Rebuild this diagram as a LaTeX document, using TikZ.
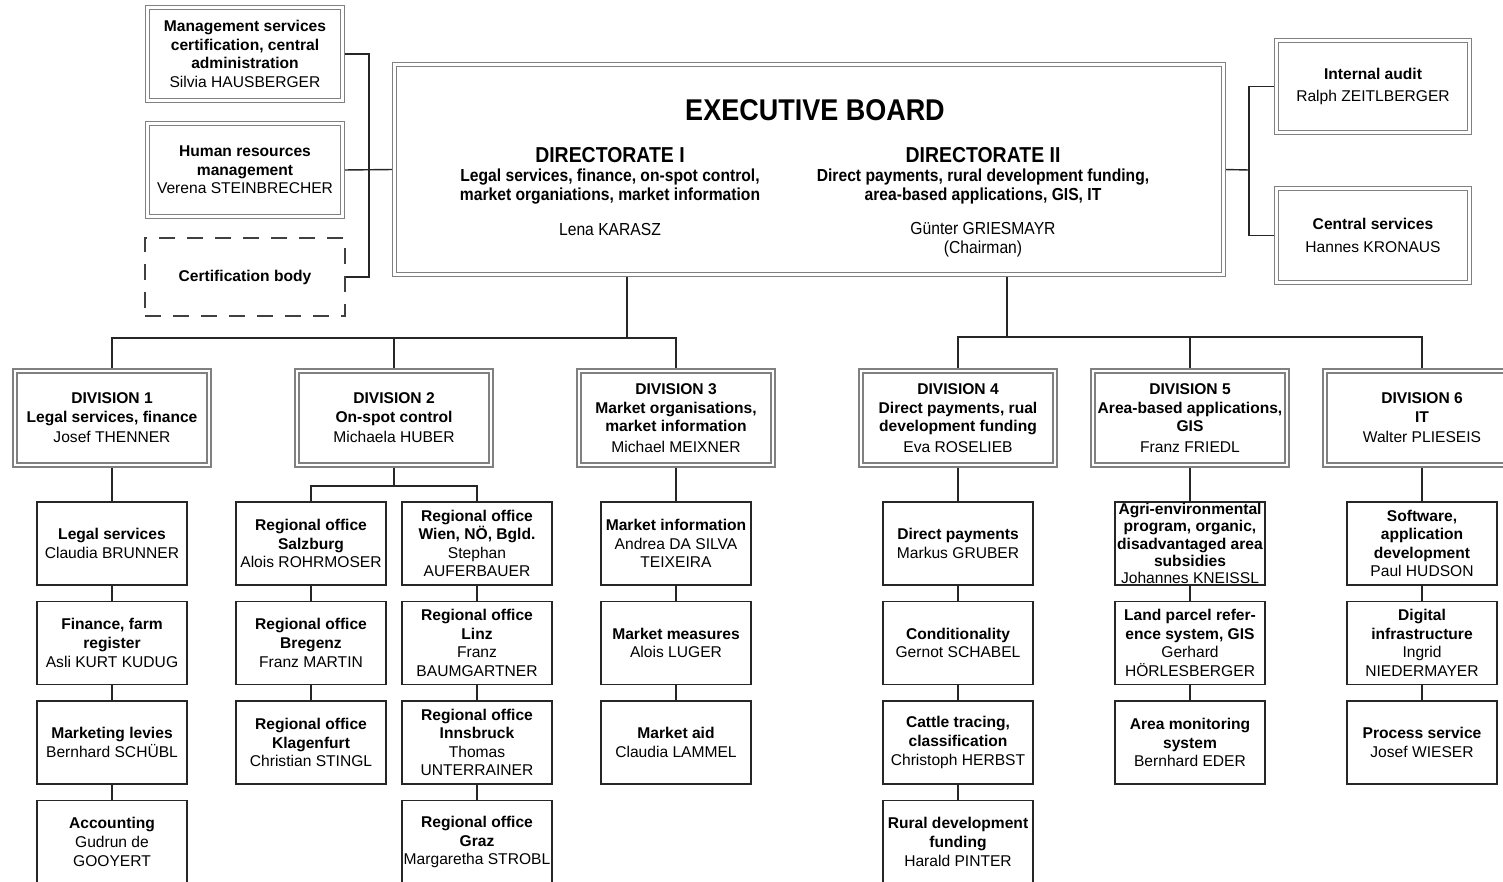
\documentclass[tikz,border=0pt]{standalone}
\usepackage{fontspec}
\setmainfont{Liberation Sans}
\newfontfamily\narrowfont{Liberation Sans}[FakeStretch=0.9]
\usepackage{tikz}
\usetikzlibrary{backgrounds}

\newcommand{\unitfont}{\fontsize{7.8}{9.3}\selectfont}
\newcommand{\boardfont}{\narrowfont\fontsize{8.7}{9.5}\selectfont}

\begin{document}
\begin{tikzpicture}[x=0.5pt, y=-0.5pt,
    unit/.style={draw=black!85, line width=0.6pt, fill=white, inner sep=0pt, align=center, font=\unitfont, minimum width=75pt, minimum height=41.5pt},
    division/.style={draw=black!50, line width=0.6pt, double=white, double distance=1.4pt, fill=white, inner sep=0pt, align=center, font=\unitfont, minimum width=97pt, minimum height=47pt},
    staff/.style={division, minimum width=97.5pt, minimum height=46.5pt},
    board/.style={inner sep=0pt, align=center, font=\boardfont},
    link/.style={draw=black!85, line width=0.7pt}]
    \useasboundingbox (0,0) rectangle (1503,882);
    % Executive board
    \node[division, minimum width=414.5pt, minimum height=105pt] at (809,169.5) (exec) {};
    \node[board, font=\narrowfont\bfseries\fontsize{15}{18}\selectfont] at (815,110) (ebtitle) {EXECUTIVE BOARD};
    \node[board, font=\narrowfont\bfseries\fontsize{10.8}{12}\selectfont] at (610,155) (dirone) {DIRECTORATE I};
    \node[board] at (610,187) (dironetasks) {\textbf{Legal services, finance, on-spot control,}\\\textbf{market organiations, market information}};
    \node[board] at (610,230) (dironehead) {Lena KARASZ};
    \node[board, font=\narrowfont\bfseries\fontsize{10.8}{12}\selectfont] at (983,155) (dirtwo) {DIRECTORATE II};
    \node[board] at (983,187) (dirtwotasks) {\textbf{Direct payments, rural development funding,}\\\textbf{area-based applications, GIS, IT}};
    \node[board] at (983,240) (dirtwohead) {Günter GRIESMAYR\\(Chairman)};
    % Staff units
    \node[staff] at (245,54) (mgmt) {\textbf{Management services}\\\textbf{certification, central}\\\textbf{administration}\\Silvia HAUSBERGER};
    \node[staff] at (245,170) (hr) {\textbf{Human resources}\\\textbf{management}\\Verena STEINBRECHER};
    \node[unit, draw=black!75, dash pattern=on 8pt off 6pt, minimum width=100pt, minimum height=39pt] at (245,277) (certbody) {\textbf{Certification body}};
    \node[staff, minimum width=96.5pt, minimum height=46pt] at (1373,86.5) (audit) {\textbf{Internal audit}\\[2pt]Ralph ZEITLBERGER};
    \node[staff, minimum width=96.5pt, minimum height=47pt] at (1373,235.5) (central) {\textbf{Central services}\\[2pt]Hannes KRONAUS};
    % Divisions
    \node[division] at (112,418) (divone) {\textbf{DIVISION 1}\\\textbf{Legal services, finance}\\[1pt]Josef THENNER};
    \node[division] at (394,418) (divtwo) {\textbf{DIVISION 2}\\\textbf{On-spot control}\\[1pt]Michaela HUBER};
    \node[division] at (676,418) (divthree) {\textbf{DIVISION 3}\\\textbf{Market organisations,}\\\textbf{market information}\\[1pt]Michael MEIXNER};
    \node[division] at (958,418) (divfour) {\textbf{DIVISION 4}\\\textbf{Direct payments, rual}\\\textbf{development funding}\\[1pt]Eva ROSELIEB};
    \node[division] at (1190,418) (divfive) {\textbf{DIVISION 5}\\\textbf{Area-based applications,}\\\textbf{GIS}\\[1pt]Franz FRIEDL};
    \node[division] at (1422,418) (divsix) {\textbf{DIVISION 6}\\\textbf{IT}\\[1pt]Walter PLIESEIS};
    % Division 1
    \node[unit] at (112,543.5) (legal) {\textbf{Legal services}\\Claudia BRUNNER};
    \node[unit] at (112,643) (finance) {\textbf{Finance, farm}\\\textbf{register}\\Asli KURT KUDUG};
    \node[unit] at (112,742.5) (levies) {\textbf{Marketing levies}\\Bernhard SCHÜBL};
    \node[unit] at (112,842) (accounting) {\textbf{Accounting}\\Gudrun de\\GOOYERT};
    % Division 2
    \node[unit] at (311,543.5) (salzburg) {\textbf{Regional office}\\\textbf{Salzburg}\\Alois ROHRMOSER};
    \node[unit] at (311,643) (bregenz) {\textbf{Regional office}\\\textbf{Bregenz}\\Franz MARTIN};
    \node[unit] at (311,742.5) (klagenfurt) {\textbf{Regional office}\\\textbf{Klagenfurt}\\Christian STINGL};
    \node[unit] at (477,543.5) (wien) {\textbf{Regional office}\\\textbf{Wien, NÖ, Bgld.}\\Stephan\\AUFERBAUER};
    \node[unit] at (477,643) (linz) {\textbf{Regional office}\\\textbf{Linz}\\Franz\\BAUMGARTNER};
    \node[unit] at (477,742.5) (innsbruck) {\textbf{Regional office}\\\textbf{Innsbruck}\\Thomas\\UNTERRAINER};
    \node[unit] at (477,842) (graz) {\textbf{Regional office}\\\textbf{Graz}\\Margaretha STROBL};
    % Division 3
    \node[unit] at (676,543.5) (mktinfo) {\textbf{Market information}\\Andrea DA SILVA\\TEIXEIRA};
    \node[unit] at (676,643) (mktmeasures) {\textbf{Market measures}\\Alois LUGER};
    \node[unit] at (676,742.5) (mktaid) {\textbf{Market aid}\\Claudia LAMMEL};
    % Division 4
    \node[unit] at (958,543.5) (directpay) {\textbf{Direct payments}\\Markus GRUBER};
    \node[unit] at (958,643) (conditionality) {\textbf{Conditionality}\\Gernot SCHABEL};
    \node[unit] at (958,742.5) (cattle) {\textbf{Cattle tracing,}\\\textbf{classification}\\Christoph HERBST};
    \node[unit] at (958,842) (ruraldev) {\textbf{Rural development}\\\textbf{funding}\\Harald PINTER};
    % Division 5
    \node[unit, font=\fontsize{7.8}{8.7}\selectfont] at (1190,543.5) (agrienv) {\textbf{Agri-environmental}\\\textbf{program, organic,}\\\textbf{disadvantaged area}\\\textbf{subsidies}\\Johannes KNEISSL};
    \node[unit] at (1190,643) (lpis) {\textbf{Land parcel refer-}\\\textbf{ence system, GIS}\\Gerhard\\HÖRLESBERGER};
    \node[unit] at (1190,742.5) (areamon) {\textbf{Area monitoring}\\\textbf{system}\\Bernhard EDER};
    % Division 6
    \node[unit] at (1422,543.5) (software) {\textbf{Software,}\\\textbf{application}\\\textbf{development}\\Paul HUDSON};
    \node[unit] at (1422,643) (digital) {\textbf{Digital}\\\textbf{infrastructure}\\Ingrid\\NIEDERMAYER};
    \node[unit] at (1422,742.5) (process) {\textbf{Process service}\\Josef WIESER};
    % Bus points
    \coordinate (staffbus) at (369,170);
    \coordinate (auditbus) at (1249,170);
    \coordinate (dironebus) at (627,338);
    \coordinate (dirtwobus) at (1007,337);
    \coordinate (officebus) at (394,486);
    % Connectors
    \begin{scope}[on background layer]
        \draw[link] (mgmt.east) -| (staffbus) |- (certbody.east);
        \draw[link] (hr.east) -- (exec.west);
        \draw[link] (exec.east) -- (auditbus);
        \draw[link] (audit.west) -| (auditbus) |- (central.west);
        \draw[link] (exec.south -| dironebus) -- (dironebus);
        \draw[link] (divone.north) |- (dironebus) -| (divthree.north);
        \draw[link] (divtwo.north) -- (divtwo.north |- dironebus);
        \draw[link] (exec.south -| dirtwobus) -- (dirtwobus);
        \draw[link] (divfour.north) |- (dirtwobus) -| (divsix.north);
        \draw[link] (divfive.north) -- (divfive.north |- dirtwobus);
        \draw[link] (divone) -- (legal) -- (finance) -- (levies) -- (accounting);
        \draw[link] (divtwo) -- (officebus);
        \draw[link] (salzburg) |- (officebus) -| (wien);
        \draw[link] (salzburg) -- (bregenz) -- (klagenfurt);
        \draw[link] (wien) -- (linz) -- (innsbruck) -- (graz);
        \draw[link] (divthree) -- (mktinfo) -- (mktmeasures) -- (mktaid);
        \draw[link] (divfour) -- (directpay) -- (conditionality) -- (cattle) -- (ruraldev);
        \draw[link] (divfive) -- (agrienv) -- (lpis) -- (areamon);
        \draw[link] (divsix) -- (software) -- (digital) -- (process);
    \end{scope}
\end{tikzpicture}
\end{document}
